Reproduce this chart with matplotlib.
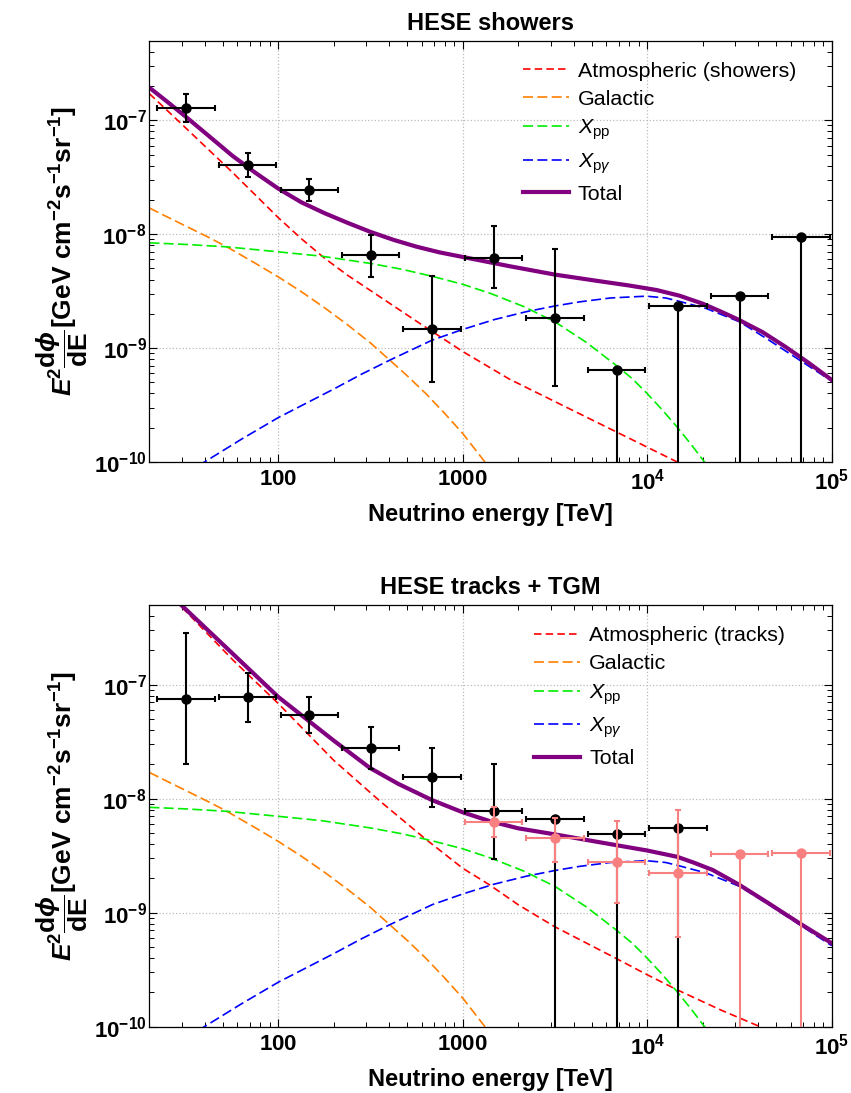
import numpy as np
import matplotlib
matplotlib.use("Agg")
import matplotlib.pyplot as plt
from matplotlib.ticker import LogLocator, FixedLocator, FixedFormatter, NullFormatter

plt.rcParams['font.family'] = ['Liberation Sans', 'DejaVu Sans']
plt.rcParams['mathtext.fontset'] = 'custom'
plt.rcParams['mathtext.rm'] = 'Liberation Sans'
plt.rcParams['mathtext.it'] = 'Liberation Sans:italic'
plt.rcParams['mathtext.bf'] = 'Liberation Sans:bold'
plt.rcParams['mathtext.bfit'] = 'Liberation Sans:italic:bold'

# ---- binned data (energies in TeV) ----
bin_center = [31.6, 68.1, 146.8, 316.2, 681.3, 1468, 3162, 6813, 14678, 31623, 68129]
bin_lo = [22.1, 47.7, 102.8, 221.3, 476.4, 1028, 2213, 4764, 10280, 22130, 47640]
bin_hi = [45.2, 97.3, 209.9, 451.9, 972.9, 2099, 4519, 9727, 20990, 45190, 97270]

shw_val = [1.28e-7, 4.05e-8, 2.43e-8, 6.55e-9, 1.46e-9, 6.19e-9, 1.85e-9, 6.37e-10, 2.35e-9, 2.88e-9, 9.42e-9]
shw_up = [1.69e-7, 5.16e-8, 3.08e-8, 9.8e-9, 4.31e-9, 1.17e-8, 7.4e-9, 6.37e-10, 2.35e-9, 2.88e-9, 9.42e-9]
shw_down = [9.6e-8, 3.16e-8, 1.94e-8, 4.17e-9, 5.0e-10, 3.4e-9, 4.68e-10, 1e-12, 1e-12, 1e-12, 1e-12]

trk_center = bin_center[:9]
trk_val = [7.54e-8, 7.74e-8, 5.46e-8, 2.81e-8, 1.55e-8, 7.73e-9, 6.65e-9, 4.89e-9, 5.52e-9]
trk_up = [2.85e-7, 1.26e-7, 7.8e-8, 4.26e-8, 2.8e-8, 2.03e-8, 6.65e-9, 4.89e-9, 5.52e-9]
trk_down = [2.03e-8, 4.71e-8, 3.75e-8, 1.83e-8, 8.4e-9, 2.94e-9, 1e-12, 1e-12, 1e-12]

tgm_center = bin_center[5:]
tgm_val = [6.19e-9, 4.48e-9, 2.8e-9, 2.24e-9, 3.24e-9, 3.31e-9]
tgm_up = [8.47e-9, 6.7e-9, 6.35e-9, 8.03e-9, 3.24e-9, 3.31e-9]
tgm_down = [4.63e-9, 2.76e-9, 1.21e-9, 6.17e-10, 1e-12, 1e-12]

# ---- model curves as (log10 E [TeV], log10 flux) ----
atm_shw_logE = [1.301, 1.5, 1.75, 2.0, 2.125, 2.25, 2.375, 2.5, 2.75, 3.0, 3.25, 3.5, 3.75, 4.0, 4.25]
atm_shw_logF = [-6.766, -7.07, -7.455, -7.855, -8.04, -8.21, -8.36, -8.495, -8.765, -9.03,
                -9.27, -9.47, -9.67, -9.87, -10.07]

atm_trk_logE = [1.301, 1.468, 1.756, 2.0, 2.3, 2.55, 2.794, 3.0, 3.146, 3.3, 3.498, 3.65,
                3.828, 4.0, 4.162, 4.4, 4.608, 4.7]
atm_trk_logF = [-6.03, -6.305, -6.787, -7.166, -7.663, -8.02, -8.349, -8.611, -8.757, -8.93,
                -9.123, -9.25, -9.399, -9.545, -9.677, -9.855, -9.998, -10.07]

gal_logE = [1.301, 1.4, 1.5, 1.625, 1.72, 1.875, 2.0, 2.125, 2.25, 2.375, 2.5, 2.6, 2.7, 2.8,
            2.9, 3.0, 3.12, 3.2]
gal_logF = [-7.77, -7.85, -7.93, -8.03, -8.11, -8.255, -8.375, -8.505, -8.645, -8.795, -8.955,
            -9.1, -9.245, -9.40, -9.57, -9.75, -10.0, -10.18]

xpp_logE = [1.301, 1.5, 1.72, 2.0, 2.235, 2.5, 2.67, 2.83, 3.0, 3.15, 3.33, 3.5, 3.67, 3.83,
            3.92, 4.0, 4.08, 4.16, 4.24, 4.31, 4.4]
xpp_logF = [-8.076, -8.09, -8.111, -8.155, -8.193, -8.257, -8.308, -8.368, -8.44, -8.52, -8.635,
            -8.77, -8.95, -9.15, -9.27, -9.40, -9.54, -9.69, -9.85, -10.0, -10.2]

xpg_logE = [1.5, 1.6, 1.8, 2.0, 2.15, 2.3, 2.45, 2.605, 2.834, 3.0, 3.17, 3.345, 3.5, 3.633,
            3.8, 3.994, 4.1, 4.175, 4.319, 4.5, 4.65, 4.825, 5.0]
xpg_logF = [-10.1, -10.0, -9.80, -9.61, -9.485, -9.36, -9.23, -9.105, -8.93, -8.836, -8.75,
            -8.68, -8.63, -8.594, -8.56, -8.544, -8.56, -8.59, -8.652, -8.769, -8.92, -9.105, -9.29]

tot_shw_logE = [1.301, 1.4, 1.5, 1.625, 1.75, 1.875, 2.0, 2.125, 2.25, 2.375, 2.5, 2.625, 2.75,
                2.875, 3.0, 3.25, 3.5, 3.75, 3.9, 4.05, 4.175, 4.3, 4.4, 4.5, 4.625, 4.75, 4.875, 5.0]
tot_shw_logF = [-6.713, -6.84, -6.971, -7.14, -7.31, -7.46, -7.60, -7.72, -7.815, -7.90, -7.98,
                -8.05, -8.11, -8.16, -8.20, -8.28, -8.355, -8.415, -8.45, -8.49, -8.54, -8.61,
                -8.68, -8.755, -8.86, -8.99, -9.13, -9.28]

tot_trk_logE = [1.301, 1.477, 1.75, 2.0, 2.3, 2.496, 2.65, 2.834, 3.0, 3.146, 3.3, 3.498, 3.828,
                4.0, 4.162, 4.25, 4.355, 4.5, 4.65, 4.825, 5.0]
tot_trk_logF = [-6.04, -6.306, -6.724, -7.108, -7.49, -7.73, -7.87, -8.013, -8.12, -8.197, -8.26,
                -8.313, -8.407, -8.455, -8.51, -8.56, -8.626, -8.757, -8.91, -9.093, -9.268]

xtick_vals = [100, 1000, 1e4, 1e5]
xtick_labels = [r'$\mathbf{100}$', r'$\mathbf{1000}$', r'$\mathbf{10}^{\mathbf{4}}$', r'$\mathbf{10}^{\mathbf{5}}$']
ytick_vals = [1e-10, 1e-9, 1e-8, 1e-7]
ytick_labels = [r'$\mathbf{10}^{\mathbf{-10}}$', r'$\mathbf{10}^{\mathbf{-9}}$',
                r'$\mathbf{10}^{\mathbf{-8}}$', r'$\mathbf{10}^{\mathbf{-7}}$']

RED, ORANGE, GREEN, BLUE, PURPLE, PINK = '#ff0000', '#ff8000', '#00ee00', '#0000ff', '#800080', '#f88080'

fig = plt.figure(figsize=(8.51, 10.93), dpi=100)
ax_top = fig.add_axes([0.1755, 0.5773, 0.8019, 0.3855])
ax_bot = fig.add_axes([0.1755, 0.0607, 0.8019, 0.3858])

ylab = (r'$\mathbfit{E}^{\mathbf{2}}\dfrac{\mathbf{d}\mathbfit{\phi}}{\mathbf{dE}}$'
        r'[GeV cm$^{\mathbf{-2}}$s$^{\mathbf{-1}}$sr$^{\mathbf{-1}}$]')


def setup(ax, title):
    ax.set_xscale('log')
    ax.set_yscale('log')
    ax.set_xlim(20, 1e5)
    ax.set_ylim(1e-10, 5e-7)
    ax.xaxis.set_major_locator(FixedLocator(xtick_vals))
    ax.xaxis.set_major_formatter(FixedFormatter(xtick_labels))
    ax.yaxis.set_major_locator(FixedLocator(ytick_vals))
    ax.yaxis.set_major_formatter(FixedFormatter(ytick_labels))
    ax.xaxis.set_minor_locator(LogLocator(base=10, subs=np.arange(2, 10), numticks=20))
    ax.yaxis.set_minor_locator(LogLocator(base=10, subs=np.arange(2, 10), numticks=20))
    ax.xaxis.set_minor_formatter(NullFormatter())
    ax.yaxis.set_minor_formatter(NullFormatter())
    ax.tick_params(which='both', direction='in', top=True, right=True, labelsize=16)
    ax.tick_params(which='major', length=6, width=0.8)
    ax.tick_params(axis='x', which='major', pad=5)
    ax.tick_params(axis='y', which='major', pad=2)
    ax.tick_params(which='minor', length=3.5, width=0.7)
    ax.grid(True, which='major', linestyle=':', color='#bbbbbb', linewidth=0.9)
    for s in ax.spines.values():
        s.set_linewidth(0.9)
    ax.set_title(title, fontsize=17, fontweight='bold', pad=8)
    ax.set_xlabel('Neutrino energy [TeV]', fontsize=17, fontweight='bold', labelpad=6)
    ax.set_ylabel(ylab, fontsize=19, fontweight='bold', labelpad=3)


def curves(ax, atm_logE, atm_logF, atm_label, tot_logE, tot_logF):
    ax.plot(10.0 ** np.array(atm_logE), 10.0 ** np.array(atm_logF), color=RED, lw=1.2,
            dashes=(4.5, 2.5), label=atm_label)
    ax.plot(10.0 ** np.array(gal_logE), 10.0 ** np.array(gal_logF), color=ORANGE, lw=1.2,
            dashes=(6, 2.6), label='Galactic')
    ax.plot(10.0 ** np.array(xpp_logE), 10.0 ** np.array(xpp_logF), color=GREEN, lw=1.2,
            dashes=(6, 2.6), label=r'$X_{\mathrm{pp}}$')
    ax.plot(10.0 ** np.array(xpg_logE), 10.0 ** np.array(xpg_logF), color=BLUE, lw=1.2,
            dashes=(6, 2.6), label=r'$X_{\mathrm{p}\gamma}$')
    ax.plot(10.0 ** np.array(tot_logE), 10.0 ** np.array(tot_logF), color=PURPLE, lw=3,
            label='Total', solid_joinstyle='round')


def points(ax, E, val, up, down, color, z):
    E = np.array(E)
    val = np.array(val)
    idx = [bin_center.index(e) for e in E]
    lo = np.array(bin_lo)[idx]
    hi = np.array(bin_hi)[idx]
    xerr = [E - lo, hi - E]
    yerr = [val - np.array(down), np.array(up) - val]
    ax.errorbar(E, val, xerr=xerr, yerr=yerr, fmt='o', color=color, ms=6.5,
                elinewidth=1.5, capsize=2.2, capthick=1.5, zorder=z)


def legend(ax, x, y):
    ax.legend(loc='upper left', bbox_to_anchor=(x, y), frameon=False, fontsize=15.4,
              handlelength=2.15, handletextpad=0.42, labelspacing=0.42,
              borderpad=0, borderaxespad=0)


setup(ax_top, 'HESE showers')
curves(ax_top, atm_shw_logE, atm_shw_logF, 'Atmospheric (showers)', tot_shw_logE, tot_shw_logF)
points(ax_top, bin_center, shw_val, shw_up, shw_down, 'black', 5)
legend(ax_top, 0.547, 0.950)

setup(ax_bot, 'HESE tracks + TGM')
curves(ax_bot, atm_trk_logE, atm_trk_logF, 'Atmospheric (tracks)', tot_trk_logE, tot_trk_logF)
points(ax_bot, trk_center, trk_val, trk_up, trk_down, 'black', 5)
points(ax_bot, tgm_center, tgm_val, tgm_up, tgm_down, PINK, 6)
legend(ax_bot, 0.564, 0.950)

fig.savefig('out.png', dpi=100)
